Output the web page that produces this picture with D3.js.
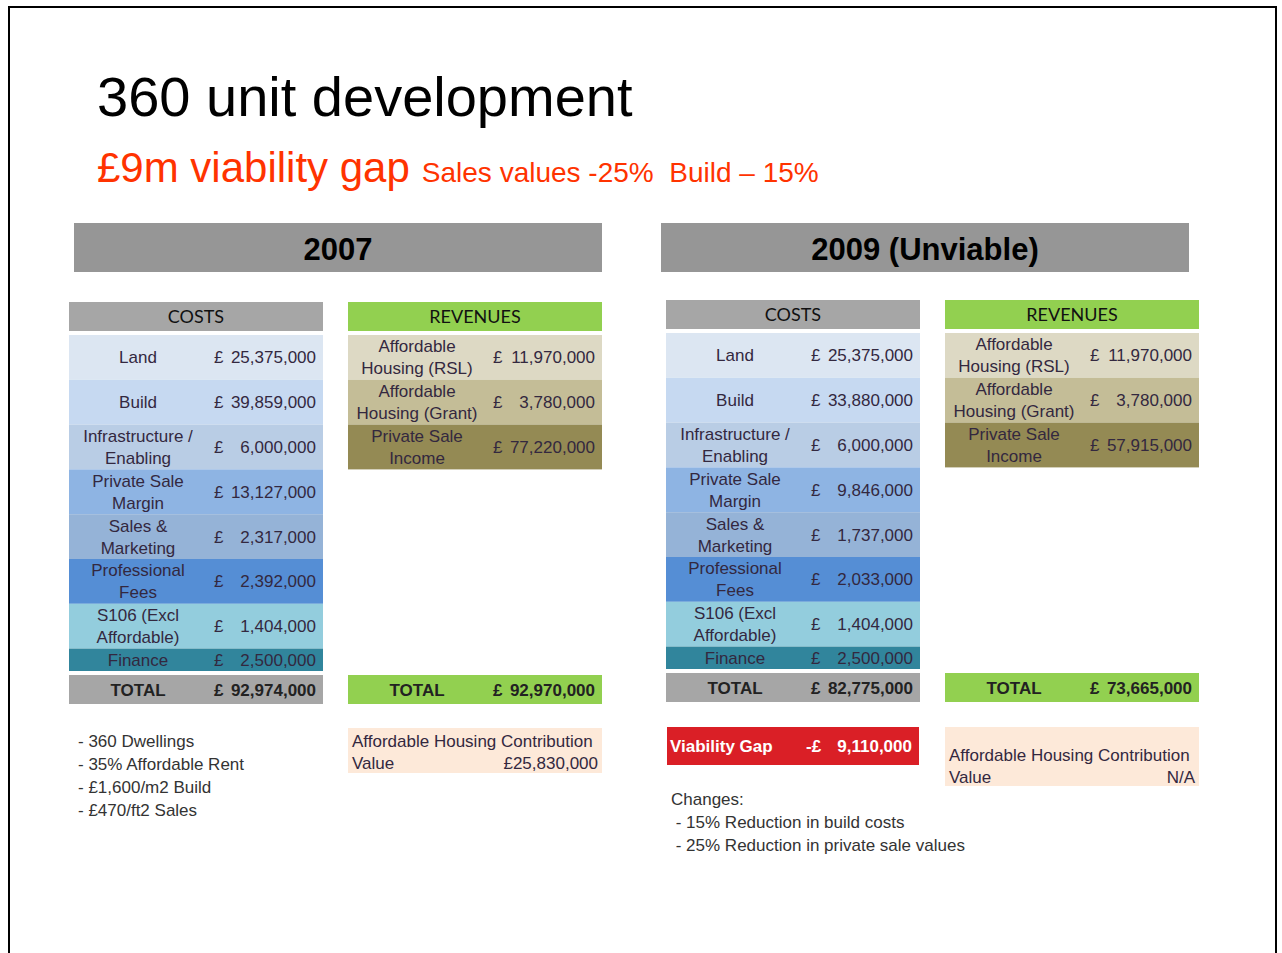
<!DOCTYPE html>
<html>
<head>
<meta charset="utf-8">
<script src="https://cdn.jsdelivr.net/npm/d3@7"></script>
<style>
  body { margin: 0; background: #fff; }
  text { font-family: "Liberation Sans", Arial, sans-serif; white-space: pre; }
  .hdr { font-family: Lato, "Open Sans", sans-serif; }
</style>
</head>
<body>
<svg id="slide"></svg>
<script>
var title = "360 unit development";
var subtitle = "£9m viability gap";
var subtitleNote = "Sales values -25%  Build – 15%";
var periods = ["2007", "2009 (Unviable)"];

var costItems = ["Land", "Build", "Infrastructure /\nEnabling", "Private Sale\nMargin", "Sales &\nMarketing",
                 "Professional\nFees", "S106 (Excl\nAffordable)", "Finance"];
var costs2007 = [25375000, 39859000, 6000000, 13127000, 2317000, 2392000, 1404000, 2500000];
var costs2009 = [25375000, 33880000, 6000000, 9846000, 1737000, 2033000, 1404000, 2500000];

var revenueItems = ["Affordable\nHousing (RSL)", "Affordable\nHousing (Grant)", "Private Sale\nIncome"];
var revenues2007 = [11970000, 3780000, 77220000];
var revenues2009 = [11970000, 3780000, 57915000];

var contribution = ["£25,830,000", "N/A"];
var notes2007 = ["- 360 Dwellings", "- 35% Affordable Rent", "- £1,600/m2 Build", "- £470/ft2 Sales"];
var notes2009 = ["Changes:", " - 15% Reduction in build costs", " - 25% Reduction in private sale values"];

// layout / styling
var W = 1282, H = 953;
var costColors = ["#dce6f2", "#c6d9f1", "#b9cde5", "#8eb4e3", "#95b3d7", "#558ed5", "#93cddd", "#31859c"];
var revColors = ["#ddd9c4", "#c4bd97", "#948a54"];
var rowUnits = [1, 1, 1, 1, 1, 1, 1, 0.5];
var txt = "#33283f";
var fmt = d3.format(",");

var svg = d3.select("#slide").attr("width", W).attr("height", H);

// frame
svg.append("path")
    .attr("d", "M9," + H + "V7H1276V" + H)
    .attr("fill", "none").attr("stroke", "#000").attr("stroke-width", 2);

svg.append("text").attr("x", 97).attr("y", 116)
    .attr("font-size", 56).attr("fill", "#000").text(title);

var sub = svg.append("text").attr("x", 97).attr("y", 182).attr("fill", "#ff3300");
sub.append("tspan").attr("font-size", 42).text(subtitle);
sub.append("tspan").attr("font-size", 28).attr("dx", 12).text(subtitleNote);

function cellText(g, x, yc, label, anchor, weight, color) {
    var lines = label.split("\n");
    var t = g.append("text").attr("text-anchor", anchor).attr("font-size", 17)
        .attr("font-weight", weight || "normal").attr("fill", color || txt);
    lines.forEach(function(l, i) {
        t.append("tspan").attr("x", x)
            .attr("y", yc + (i - (lines.length - 1) / 2) * 22 + 6).text(l);
    });
}

function money(g, x0, x1, yc, v, weight, color, prefix) {
    cellText(g, x0, yc, prefix || "£", "start", weight, color);
    cellText(g, x1, yc, fmt(v), "end", weight, color);
}

function table(x, y, header, headerColor, items, values, colors, units) {
    var w = 254;
    var g = svg.append("g");
    g.append("rect").attr("x", x).attr("y", y).attr("width", w).attr("height", 29).attr("fill", headerColor);
    g.append("text").attr("class", "hdr").attr("x", x + w / 2).attr("y", y + 21)
        .attr("text-anchor", "middle").attr("font-size", 18).attr("fill", "#111").text(header);

    var cum = [0];
    units.forEach(function(u, i) { cum.push(cum[i] + u); });
    var yScale = d3.scaleLinear().domain([0, 7.5]).range([y + 33, y + 33 + 336]);

    items.forEach(function(item, i) {
        var y0 = yScale(cum[i]), y1 = yScale(cum[i + 1]), yc = (y0 + y1) / 2;
        g.append("rect").attr("x", x).attr("y", y0).attr("width", w).attr("height", y1 - y0).attr("fill", colors[i]);
        cellText(g, x + 69, yc, item, "middle");
        money(g, x + 145, x + w - 7, yc, values[i]);
    });

    var ty = y + 373;
    g.append("rect").attr("x", x).attr("y", ty).attr("width", w).attr("height", 29).attr("fill", headerColor);
    cellText(g, x + 69, ty + 14.5, "TOTAL", "middle", "bold", "#222");
    money(g, x + 145, x + w - 7, ty + 14.5, d3.sum(values), "bold", "#222");
}

function panel(px, bx, dy, idx, costs, revs) {
    svg.append("rect").attr("x", bx).attr("y", 223).attr("width", 528).attr("height", 49).attr("fill", "#969696");
    svg.append("text").attr("x", bx + 264).attr("y", 260).attr("text-anchor", "middle")
        .attr("font-size", 31).attr("font-weight", "bold").attr("fill", "#000").text(periods[idx]);
    table(px, 302 + dy, "COSTS", "#a6a6a6", costItems, costs, costColors, rowUnits);
    table(px + 279, 302 + dy, "REVENUES", "#92d050", revenueItems, revs, revColors, [1, 1, 1]);
}

panel(69, 74, 0, 0, costs2007, revenues2007);
panel(666, 661, -2, 1, costs2009, revenues2009);

// 2007 notes
notes2007.forEach(function(n, i) {
    svg.append("text").attr("x", 78).attr("y", 747 + i * 23).attr("font-size", 17).attr("fill", "#333").text(n);
});

// affordable housing contribution boxes
function contributionBox(x, y, h, yt, value) {
    svg.append("rect").attr("x", x).attr("y", y).attr("width", 254).attr("height", h).attr("fill", "#fde9d9");
    svg.append("text").attr("x", x + 4).attr("y", yt).attr("font-size", 17).attr("fill", txt).text("Affordable Housing Contribution");
    svg.append("text").attr("x", x + 4).attr("y", yt + 22).attr("font-size", 17).attr("fill", txt).text("Value");
    svg.append("text").attr("x", x + 250).attr("y", yt + 22).attr("font-size", 17).attr("text-anchor", "end").attr("fill", txt).text(value);
}
contributionBox(348, 728, 45, 747, contribution[0]);
contributionBox(945, 727, 59, 761, contribution[1]);

// viability gap
var gap = d3.sum(revenues2009) - d3.sum(costs2009);
svg.append("rect").attr("x", 667).attr("y", 727).attr("width", 252).attr("height", 38).attr("fill", "#da1f26");
var vg = svg.append("g");
cellText(vg, 670, 746, "Viability Gap", "start", "bold", "#fff");
money(vg, 806, 912, 746, Math.abs(gap), "bold", "#fff", gap < 0 ? "-£" : "£");

notes2009.forEach(function(n, i) {
    svg.append("text").attr("x", 671).attr("y", 805 + i * 23).attr("font-size", 17).attr("fill", "#333").text(n);
});
</script>
</body>
</html>
